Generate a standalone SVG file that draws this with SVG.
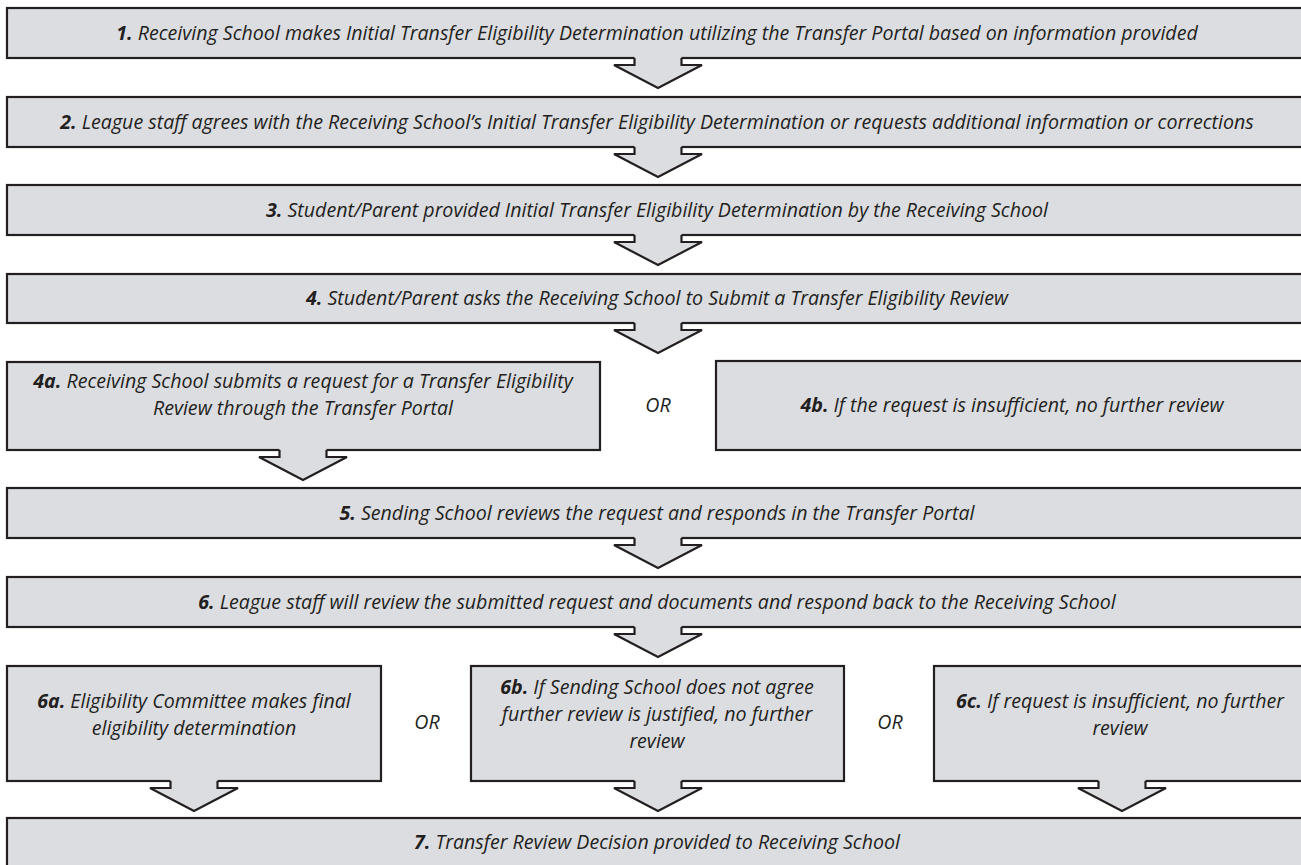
<svg xmlns="http://www.w3.org/2000/svg" width="1301" height="865" viewBox="0 0 1301 865">
<style>
.box{fill:#dcdde0;stroke:#231f20;stroke-width:2.2}
.af{fill:#dcdde0;stroke:none}
.as{fill:none;stroke:#231f20;stroke-width:2.2;stroke-linejoin:miter}
text{font-family:"Open Sans","Noto Sans","Liberation Sans",sans-serif;font-style:italic;font-size:19.6px;fill:#231f20;text-anchor:middle}
.b{font-weight:bold}
</style>
<defs>
<g id="arrow">
<polygon class="af" points="-23.5,-2 23.5,-2 23.5,7 44,7 0,30 -44,7 -23.5,7"/>
<polyline class="as" points="-23.5,0 -23.5,7 -44,7 0,30 44,7 23.5,7 23.5,0"/>
</g>
</defs>
<rect width="1301" height="865" fill="#ffffff"/>
<g id="n1"><rect class="box" x="7" y="8" width="1310" height="50"/><text x="657" y="39.5"><tspan class="b">1.</tspan> Receiving School makes Initial Transfer Eligibility Determination utilizing the Transfer Portal based on information provided</text></g>
<g id="n2"><rect class="box" x="7" y="97" width="1310" height="50"/><text x="657" y="128.5"><tspan class="b">2.</tspan> League staff agrees with the Receiving School’s Initial Transfer Eligibility Determination or requests additional information or corrections</text></g>
<g id="n3"><rect class="box" x="7" y="185" width="1310" height="50"/><text x="657" y="216.5"><tspan class="b">3.</tspan> Student/Parent provided Initial Transfer Eligibility Determination by the Receiving School</text></g>
<g id="n4"><rect class="box" x="7" y="274" width="1310" height="49"/><text x="657" y="304.5"><tspan class="b">4.</tspan> Student/Parent asks the Receiving School to Submit a Transfer Eligibility Review</text></g>
<g id="n4a"><rect class="box" x="7" y="362" width="593" height="88"/><text x="303" y="388"><tspan class="b">4a.</tspan> Receiving School submits a request for a Transfer Eligibility</text><text x="303" y="415">Review through the Transfer Portal</text></g>
<g id="or1"><text x="658" y="411.5">OR</text></g>
<g id="n4b"><rect class="box" x="716" y="361" width="600" height="89"/><text x="1012" y="411.5"><tspan class="b">4b.</tspan> If the request is insufficient, no further review</text></g>
<g id="n5"><rect class="box" x="7" y="488" width="1310" height="50"/><text x="657" y="519.5"><tspan class="b">5.</tspan> Sending School reviews the request and responds in the Transfer Portal</text></g>
<g id="n6"><rect class="box" x="7" y="577" width="1310" height="50"/><text x="657" y="608.5"><tspan class="b">6.</tspan> League staff will review the submitted request and documents and respond back to the Receiving School</text></g>
<g id="n6a"><rect class="box" x="7" y="666" width="374" height="115"/><text x="194" y="707.5"><tspan class="b">6a.</tspan> Eligibility Committee makes final</text><text x="194" y="734.5">eligibility determination</text></g>
<g id="or2"><text x="427" y="728.5">OR</text></g>
<g id="n6b"><rect class="box" x="471" y="666" width="373" height="115"/><text x="657" y="693.5"><tspan class="b">6b.</tspan> If Sending School does not agree</text><text x="657" y="720.5">further review is justified, no further</text><text x="657" y="747.5">review</text></g>
<g id="or3"><text x="890" y="728.5">OR</text></g>
<g id="n6c"><rect class="box" x="934" y="666" width="380" height="115"/><text x="1120" y="707.5"><tspan class="b">6c.</tspan> If request is insufficient, no further</text><text x="1120" y="734.5">review</text></g>
<g id="n7"><rect class="box" x="7" y="818" width="1310" height="60"/><text x="657" y="848.5"><tspan class="b">7.</tspan> Transfer Review Decision provided to Receiving School</text></g>
<g id="connectors">
<use href="#arrow" x="658" y="58"/>
<use href="#arrow" x="658" y="147"/>
<use href="#arrow" x="658" y="235"/>
<use href="#arrow" x="658" y="323"/>
<use href="#arrow" x="303" y="450"/>
<use href="#arrow" x="658" y="538"/>
<use href="#arrow" x="658" y="627"/>
<use href="#arrow" x="194" y="781"/>
<use href="#arrow" x="658" y="781"/>
<use href="#arrow" x="1122" y="781"/>
</g>
</svg>
